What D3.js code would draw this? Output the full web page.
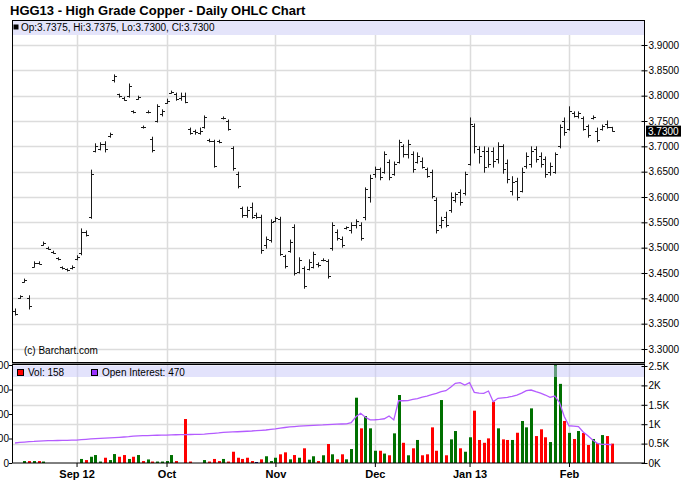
<!DOCTYPE html>
<html><head><meta charset="utf-8">
<script src="https://cdn.jsdelivr.net/npm/d3@7/dist/d3.min.js"></script>
<style>
body{margin:0;background:#fff;}
svg{display:block;font-family:"Liberation Sans",Arial,Helvetica,sans-serif;}
</style></head><body>
<svg id="c" width="688" height="503"></svg>
<script>
// ---------------- DATA ----------------
const opens=[3.375,3.400,3.432,3.400,3.462,3.470,3.506,3.500,3.492,3.479,3.461,3.457,3.459,3.478,3.490,3.531,3.560,3.690,3.695,3.705,
3.720,3.830,3.803,3.796,3.800,3.769,3.794,3.739,3.767,3.715,3.750,3.764,3.786,3.806,3.804,3.795,3.800,3.734,3.730,3.726,
3.738,3.712,3.710,3.710,3.755,3.750,3.697,3.645,3.578,3.565,3.580,3.565,3.560,3.505,3.515,3.553,3.556,3.483,3.493,3.540,
3.452,3.460,3.458,3.462,3.468,3.475,3.474,3.500,3.530,3.518,3.539,3.535,3.545,3.545,3.560,3.600,3.645,3.655,3.650,3.670,
3.645,3.670,3.700,3.685,3.685,3.670,3.672,3.655,3.650,3.595,3.545,3.560,3.575,3.595,3.610,3.608,3.665,3.740,3.695,3.690,
3.690,3.690,3.675,3.700,3.668,3.612,3.632,3.612,3.662,3.665,3.695,3.680,3.675,3.650,3.650,3.700,3.750,3.735,3.765,3.760,
3.755,3.740,3.756,3.730,3.735,3.745,3.7375];
const highs=[3.379,3.405,3.438,3.405,3.472,3.472,3.511,3.501,3.493,3.480,3.462,3.458,3.464,3.484,3.537,3.533,3.653,3.705,3.707,3.709,
3.726,3.841,3.803,3.797,3.823,3.770,3.799,3.740,3.770,3.718,3.782,3.772,3.793,3.809,3.805,3.805,3.805,3.736,3.732,3.736,
3.760,3.714,3.712,3.712,3.758,3.752,3.699,3.649,3.580,3.580,3.588,3.568,3.564,3.521,3.555,3.560,3.560,3.485,3.515,3.545,
3.480,3.462,3.476,3.491,3.470,3.478,3.476,3.549,3.535,3.521,3.541,3.549,3.555,3.549,3.618,3.643,3.659,3.657,3.689,3.673,
3.669,3.712,3.703,3.712,3.689,3.687,3.677,3.657,3.653,3.598,3.560,3.570,3.608,3.608,3.614,3.649,3.756,3.744,3.699,3.699,
3.697,3.697,3.707,3.703,3.673,3.640,3.637,3.657,3.687,3.699,3.699,3.687,3.679,3.667,3.687,3.742,3.756,3.778,3.768,3.768,
3.758,3.742,3.760,3.736,3.742,3.750,3.7375];
const lows=[3.367,3.400,3.432,3.379,3.462,3.468,3.505,3.497,3.489,3.476,3.458,3.454,3.458,3.476,3.486,3.523,3.558,3.689,3.693,3.689,
3.718,3.827,3.797,3.791,3.797,3.766,3.793,3.736,3.766,3.689,3.748,3.760,3.785,3.805,3.791,3.791,3.786,3.724,3.724,3.724,
3.736,3.709,3.659,3.707,3.754,3.732,3.653,3.618,3.560,3.560,3.558,3.558,3.489,3.499,3.511,3.551,3.485,3.460,3.491,3.446,
3.450,3.420,3.456,3.460,3.462,3.474,3.440,3.495,3.515,3.501,3.537,3.529,3.539,3.515,3.555,3.590,3.639,3.634,3.647,3.634,
3.643,3.667,3.679,3.677,3.649,3.667,3.657,3.639,3.598,3.529,3.539,3.541,3.570,3.590,3.584,3.604,3.663,3.687,3.667,3.649,
3.659,3.659,3.667,3.647,3.628,3.604,3.594,3.610,3.657,3.659,3.669,3.659,3.639,3.643,3.647,3.697,3.722,3.732,3.758,3.756,
3.732,3.718,3.754,3.709,3.732,3.736,3.730];
const closes=[3.370,3.405,3.436,3.385,3.470,3.468,3.510,3.498,3.490,3.477,3.460,3.455,3.462,3.482,3.530,3.525,3.645,3.700,3.705,3.695,
3.724,3.838,3.800,3.792,3.820,3.768,3.797,3.738,3.768,3.692,3.780,3.770,3.790,3.807,3.793,3.800,3.788,3.726,3.728,3.730,
3.758,3.710,3.662,3.708,3.756,3.735,3.658,3.622,3.565,3.575,3.560,3.560,3.495,3.518,3.550,3.558,3.488,3.463,3.512,3.450,
3.475,3.425,3.472,3.488,3.465,3.476,3.445,3.545,3.520,3.505,3.540,3.545,3.552,3.520,3.615,3.638,3.655,3.640,3.685,3.640,
3.665,3.708,3.685,3.705,3.655,3.680,3.660,3.642,3.602,3.535,3.555,3.545,3.600,3.605,3.590,3.645,3.745,3.700,3.680,3.660,
3.665,3.672,3.700,3.655,3.635,3.630,3.600,3.650,3.680,3.690,3.675,3.665,3.645,3.662,3.685,3.738,3.728,3.770,3.760,3.765,
3.735,3.722,3.758,3.712,3.740,3.738,3.730];
const volumes=[0,0,16,16,16,16,12,0,0,0,0,0,0,0,33,24,51,65,12,43,
24,73,51,65,33,51,65,16,29,12,12,12,16,65,16,0,359,12,0,0,
24,12,33,16,33,12,92,43,33,43,16,8,30,55,16,43,71,87,30,65,
43,120,27,55,16,63,155,71,30,71,30,114,533,283,383,283,100,100,77,63,
242,555,165,63,120,188,63,71,291,100,514,63,193,261,120,92,210,427,188,165,
201,500,283,193,188,188,247,343,291,446,220,275,210,171,850,646,343,246,196,261,
245,147,196,163,228,220,158];
// sign of the day's change (1 up, -1 down, 0 unchanged)
const changeSign=[-1,1,1,-1,1,-1,1,-1,-1,-1,-1,-1,1,1,1,-1,1,1,1,-1,
1,1,-1,-1,1,-1,1,-1,1,-1,1,1,1,1,-1,1,-1,-1,1,1,
1,-1,-1,-1,1,-1,-1,-1,-1,-1,-1,0,-1,1,1,1,-1,-1,1,-1,
1,-1,1,1,-1,1,-1,1,-1,-1,1,1,1,-1,1,1,1,-1,1,-1,
1,1,-1,1,-1,1,-1,-1,-1,-1,1,-1,1,1,-1,1,1,-1,-1,-1,
-1,-1,1,-1,-1,1,-1,1,1,1,-1,-1,-1,1,1,1,-1,1,-1,1,
-1,-1,1,-1,1,-1,-1];
const openInterest=[515,530,540,550,555,565,570,575,578,580,582,585,588,592,600,610,620,630,636,640,
645,652,660,670,680,695,700,703,708,712,715,718,721,725,728,730,732,735,737,739,
745,755,765,775,790,795,800,805,812,818,825,835,842,850,865,880,900,915,930,940,
950,958,965,972,978,982,990,995,1000,1005,1010,1040,1190,1280,1180,1110,1115,1125,1140,1210,
1110,1605,1605,1610,1640,1660,1700,1726,1760,1795,1837,1863,1950,2053,2070,2010,2070,1822,1800,1795,
1855,1580,1667,1680,1693,1720,1752,1800,1863,1881,1837,1800,1752,1693,1726,1560,1200,960,953,936,
800,704,593,507,481,481,470];
const priceTicks=[3.30,3.35,3.40,3.45,3.50,3.55,3.60,3.65,3.70,3.75,3.80,3.85,3.90];
const oiTicks=[0,500,1000,1500,2000,2500];
const oiTickLabels=["0K","0.5K","1K","1.5K","2K","2.5K"];
const volTicks=[0,200,400,600,800];
const monthIndex=[13,32,55,76,96,117];
const monthLabels=["Sep 12","Oct","Nov","Dec","Jan 13","Feb"];
const title="HGG13 - High Grade Copper - Daily OHLC Chart";
const last={o:"3.7375",h:"3.7375",l:"3.7300",c:"3.7300",vol:158,oi:470};

// ---------------- LAYOUT ----------------
const L=12, R=644.5, T=20, MID=363.5, B=463;
const svg=d3.select("#c");
const x=d3.scaleLinear().domain([0,126]).range([15,611.6]);
const yP=d3.scaleLinear().domain([3.30,3.90]).range([349,45]);
const yV=d3.scaleLinear().domain([0,800]).range([B,365]);
const yOI=d3.scaleLinear().domain([0,2500]).range([B,366]);
const px=v=>Math.round(v)+0.5;
const gridC="#dcdcdc";

// title
svg.append("text").attr("x",10).attr("y",15).attr("font-size",13).attr("font-weight","bold").attr("fill","#000").text(title);

// upper panel clip
svg.append("defs").html(
 `<clipPath id="cu"><rect x="${L}" y="${T}" width="${R-L}" height="${MID-T}"/></clipPath>
  <clipPath id="cl"><rect x="${L}" y="${MID+1.5}" width="${R-L}" height="${B-MID-1.5}"/></clipPath>`);

// gridlines upper
const gu=svg.append("g");
gu.selectAll("line.h").data(priceTicks).join("line")
 .attr("x1",L).attr("x2",R).attr("y1",d=>px(yP(d))).attr("y2",d=>px(yP(d)))
 .attr("stroke",gridC).attr("stroke-width",1.5);
gu.selectAll("line.v").data(monthIndex).join("line")
 .attr("x1",d=>px(x(d))).attr("x2",d=>px(x(d))).attr("y1",T).attr("y2",MID)
 .attr("stroke",gridC).attr("stroke-width",1.5);
// gridlines lower
const gl=svg.append("g");
gl.selectAll("line.h").data(oiTicks.slice(1,5)).join("line")
 .attr("x1",L).attr("x2",R).attr("y1",d=>px(yOI(d))).attr("y2",d=>px(yOI(d)))
 .attr("stroke",gridC).attr("stroke-width",1.5);
gl.selectAll("line.v").data(monthIndex).join("line")
 .attr("x1",d=>px(x(d))).attr("x2",d=>px(x(d))).attr("y1",MID).attr("y2",B)
 .attr("stroke",gridC).attr("stroke-width",1.5);

// OHLC bars
const bars=opens.map((o,i)=>({i,o,h:highs[i],l:lows[i],c:closes[i]}));
const gb=svg.append("g").attr("clip-path","url(#cu)").attr("stroke","#1a1a1a").attr("stroke-width",1);
bars.forEach(d=>{
  const xx=px(x(d.i));
  gb.append("line").attr("x1",xx).attr("x2",xx).attr("y1",yP(d.h)-0.5).attr("y2",yP(d.l)+0.5);
  gb.append("line").attr("x1",xx-2.5).attr("x2",xx).attr("y1",px(yP(d.o))).attr("y2",px(yP(d.o)));
  gb.append("line").attr("x1",xx).attr("x2",xx+2.5).attr("y1",px(yP(d.c))).attr("y2",px(yP(d.c)));
});

// upper legend band
svg.append("rect").attr("x",L).attr("y",T).attr("width",R-L).attr("height",15).attr("fill","#e4e4fa");
svg.append("rect").attr("x",13.5).attr("y",24.5).attr("width",5).attr("height",5).attr("fill","#000");
svg.append("text").attr("x",21).attr("y",30.5).attr("font-size",10).attr("fill","#000")
 .text(`Op:${last.o}, Hi:${last.h}, Lo:${last.l}, Cl:${last.c}`);
svg.append("text").attr("x",24).attr("y",354).attr("font-size",10).attr("fill","#000").text("(c) Barchart.com");

// volume bars
const gv=svg.append("g").attr("clip-path","url(#cl)");
gv.selectAll("rect").data(volumes.map((v,i)=>({v,i})).filter(d=>d.v>0)).join("rect")
 .attr("x",d=>Math.round(x(d.i))-1).attr("width",3)
 .attr("y",d=>yV(d.v)).attr("height",d=>B-yV(d.v))
 .attr("fill",d=>changeSign[d.i]>0?"#007000":(changeSign[d.i]<0?"#ff0000":"#000080"));

// open interest line
svg.append("path").attr("clip-path","url(#cl)")
 .datum(openInterest)
 .attr("d",d3.line().x((d,i)=>x(i)).y(d=>yOI(d)))
 .attr("fill","none").attr("stroke","#b45cff").attr("stroke-width",1.3);

// lower legend band (semi-transparent)
svg.append("rect").attr("x",L).attr("y",MID+2).attr("width",R-L).attr("height",11.5).attr("fill","rgba(200,200,250,0.5)");
svg.append("rect").attr("x",17.5).attr("y",369.5).attr("width",6).attr("height",6).attr("fill","#ff0000").attr("stroke","#000");
svg.append("text").attr("x",28).attr("y",376).attr("font-size",10).attr("fill","#000").text(`Vol: ${last.vol}`);
svg.append("rect").attr("x",91.5).attr("y",369.5).attr("width",6).attr("height",6).attr("fill","#9933ff").attr("stroke","#000");
svg.append("text").attr("x",102).attr("y",376).attr("font-size",10).attr("fill","#000").text(`Open Interest: ${last.oi}`);

// frame
svg.append("rect").attr("x",L+0.5).attr("y",T+0.5).attr("width",R-L-0.5).attr("height",B-T-0.5)
 .attr("fill","none").attr("stroke","#000");
svg.append("line").attr("x1",L).attr("x2",R).attr("y1",362.5).attr("y2",362.5).attr("stroke","#000");
svg.append("line").attr("x1",L).attr("x2",R).attr("y1",363.5).attr("y2",363.5).attr("stroke","#777");
svg.append("line").attr("x1",L).attr("x2",R).attr("y1",364.5).attr("y2",364.5).attr("stroke","#000");

// right price axis
const ra=svg.append("g").attr("transform",`translate(${R},0)`)
 .call(d3.axisRight(yP).tickValues(priceTicks).tickFormat(d3.format(".4f")).tickSize(3).tickSizeOuter(0));
ra.select(".domain").remove();
ra.selectAll(".tick line").attr("x1",-3).attr("x2",3).attr("stroke","#000");
ra.selectAll(".tick text").attr("x",4).attr("font-size",10).attr("font-family","inherit").attr("fill","#000");

// last price box
svg.append("rect").attr("x",646).attr("y",yP(3.73)-5.5).attr("width",35).attr("height",11).attr("fill","#000");
svg.append("text").attr("x",648).attr("y",yP(3.73)).attr("dy","0.35em").attr("font-size",10).attr("fill","#fff").text(last.c);

// right OI axis
const ro=svg.append("g").attr("transform",`translate(${R},0)`)
 .call(d3.axisRight(yOI).tickValues(oiTicks).tickFormat((d,i)=>oiTickLabels[i]).tickSize(3).tickSizeOuter(0));
ro.select(".domain").remove();
ro.selectAll(".tick line").attr("x1",-3).attr("x2",3).attr("stroke","#000");
ro.selectAll(".tick text").attr("x",4).attr("font-size",10).attr("font-family","inherit").attr("fill","#000");

// left volume axis (cut off by window edge)
const la=svg.append("g").attr("transform",`translate(${L},0)`)
 .call(d3.axisLeft(yV).tickValues(volTicks).tickSize(3).tickSizeOuter(0));
la.select(".domain").remove();
la.selectAll(".tick line").attr("stroke","#000");
la.selectAll(".tick text").attr("x",-3).attr("font-size",10).attr("font-family","inherit").attr("fill","#000");

// bottom month axis
const ba=svg.append("g").attr("transform",`translate(0,${B})`)
 .call(d3.axisBottom(x).tickValues(monthIndex).tickFormat((d,i)=>monthLabels[i]).tickSize(4).tickSizeOuter(0));
ba.select(".domain").remove();
ba.selectAll(".tick line").attr("stroke","#000");
ba.selectAll(".tick text").attr("y",7).attr("dy","0.71em").attr("font-size",11).attr("font-weight","bold").attr("font-family","inherit").attr("fill","#000");
</script>
</body></html>
